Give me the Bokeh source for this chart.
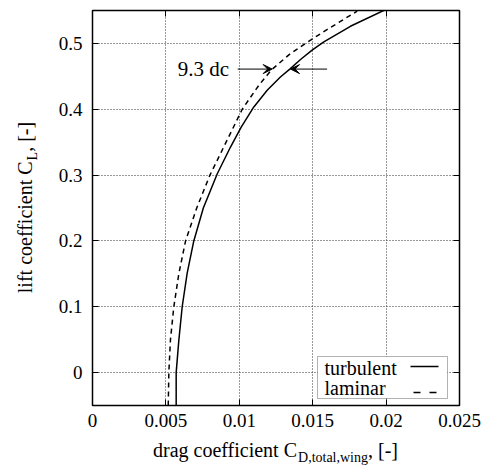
from bokeh.plotting import figure
from bokeh.models import (Arrow, VeeHead, Label, BoxAnnotation, LinearAxis,
                          FixedTicker, Div)
from bokeh.layouts import row, column
from bokeh.embed import file_html
from bokeh.resources import INLINE

# ---- data ----
turbulent_cl = [-0.05, 0.0, 0.049, 0.10, 0.151, 0.20, 0.25, 0.302, 0.3426,
                0.373, 0.4035, 0.429, 0.449, 0.461, 0.4756, 0.4898, 0.5024,
                0.526, 0.5507]
turbulent_cd = [0.0057, 0.0057, 0.00588, 0.00611, 0.00645, 0.0069, 0.00755,
                0.0085, 0.0094, 0.01013, 0.01099, 0.0119, 0.0128, 0.01344,
                0.01417, 0.01496, 0.01576, 0.01757, 0.0199]

laminar_cl = [-0.05, 0.0, 0.05, 0.10, 0.15, 0.20, 0.25, 0.30, 0.35, 0.40,
              0.437, 0.46, 0.483, 0.50, 0.518, 0.549]
laminar_cd = [0.00516, 0.0052, 0.00531, 0.00554, 0.00588, 0.00634, 0.0071,
              0.0080, 0.0091, 0.0102, 0.01135, 0.0122, 0.0134, 0.01451,
              0.01576, 0.01803]

x_ticks = [0, 0.005, 0.01, 0.015, 0.02, 0.025]
x_tick_labels = ["0", "0.005", "0.01", "0.015", "0.02", "0.025"]
y_ticks = [0, 0.1, 0.2, 0.3, 0.4, 0.5]
y_tick_labels = ["0", "0.1", "0.2", "0.3", "0.4", "0.5"]

# annotation: "9.3 dc" arrows at CL level
dc_cl = 0.461
dc_left_from, dc_left_to = 0.00989, 0.01224
dc_right_from, dc_right_to = 0.01598, 0.01349
dc_label_x = 0.0093
dc_text = "9.3 dc"

series_names = ["turbulent", "laminar"]

x_title = ("drag coefficient C", "D,total,wing", ", [-]")
y_title = ("lift coefficient C", "L", ", [-]")

FONT = "'Liberation Serif'"
CSS_FONT = "font-family:'Liberation Serif',serif;color:black;"

p = figure(frame_width=367, frame_height=395,
           x_range=(0, 0.025), y_range=(-0.05, 0.55),
           min_border_left=47, min_border_right=26,
           min_border_top=10, min_border_bottom=30,
           output_backend="svg", toolbar_location=None,
           background_fill_color="white", border_fill_color="white")

p.outline_line_color = "black"
p.outline_line_width = 1.5

# axes
for ax, ticks, labels in ((p.xaxis[0], x_ticks, x_tick_labels),
                          (p.yaxis[0], y_ticks, y_tick_labels)):
    ax.ticker = FixedTicker(ticks=ticks)
    ax.major_label_overrides = {t: l for t, l in zip(ticks, labels)}
    ax.major_label_text_font = FONT
    ax.major_label_text_font_size = "19px"
    ax.major_label_text_color = "black"
    ax.major_tick_in = 6
    ax.major_tick_out = 0
    ax.minor_tick_in = 0
    ax.minor_tick_out = 0
    ax.axis_line_color = None
    ax.major_tick_line_color = "black"
    ax.major_tick_line_width = 1
p.xaxis.major_label_standoff = 8
p.yaxis.major_label_standoff = 10

for loc, ticks in (("above", x_ticks), ("right", y_ticks)):
    ax = LinearAxis(ticker=FixedTicker(ticks=ticks),
                    major_label_text_font=FONT,
                    major_label_text_font_size="1px",
                    major_label_text_alpha=0,
                    major_label_standoff=0,
                    major_tick_in=6, major_tick_out=0,
                    minor_tick_in=0, minor_tick_out=0,
                    axis_line_color=None,
                    major_tick_line_color="black")
    p.add_layout(ax, loc)

# grid
for g in (p.xgrid[0], p.ygrid[0]):
    g.grid_line_color = "#333333"
    g.grid_line_dash = "1 2"
    g.grid_line_width = 1
    g.grid_line_alpha = 1

# curves
p.line(turbulent_cd, turbulent_cl, line_color="black", line_width=1.5)
p.line(laminar_cd, laminar_cl, line_color="black", line_width=1.5,
       line_dash="5 4")

# "9.3 dc" annotation
for x0, x1 in ((dc_left_from, dc_left_to), (dc_right_from, dc_right_to)):
    p.add_layout(Arrow(x_start=x0, y_start=dc_cl, x_end=x1, y_end=dc_cl,
                       line_width=1, line_color="black",
                       end=VeeHead(size=9, fill_color="black",
                                   line_color="black", line_width=1)))
p.add_layout(Label(x=dc_label_x, y=dc_cl, text=dc_text, text_align="right",
                   text_baseline="middle", text_font=FONT,
                   text_font_size="21px", text_color="black"))

# legend (custom: label first, sample line after)
p.add_layout(BoxAnnotation(left=225, right=355, top=49, bottom=7,
                           left_units="screen", right_units="screen",
                           top_units="screen", bottom_units="screen",
                           fill_color="white", fill_alpha=1,
                           line_color="black", line_width=1))
for name, sy in zip(series_names, (38, 18)):
    p.add_layout(Label(x=232, y=sy, x_units="screen", y_units="screen",
                       text=name, text_font=FONT, text_font_size="20px",
                       text_baseline="alphabetic", text_color="black"))
p.add_layout(Arrow(x_start=318, y_start=39, x_end=346, y_end=39,
                   start_units="screen", end_units="screen", end=None,
                   line_color="black", line_width=1.5))
p.add_layout(Arrow(x_start=321, y_start=13, x_end=344, y_end=13,
                   start_units="screen", end_units="screen", end=None,
                   line_color="black", line_width=1.5, line_dash="7 9"))

# axis titles with subscripts (HTML text)
SUB = "font-size:14px;position:relative;top:5px;margin-left:1px;"
xdiv = Div(width=440, height=35, margin=0, text=(
    f'<div style="{CSS_FONT}width:440px;box-sizing:border-box;'
    'padding:3px 26px 0 47px;line-height:24px;font-size:20px;'
    'text-align:center;white-space:nowrap;">'
    f'{x_title[0]}<span style="{SUB}">{x_title[1]}</span>{x_title[2]}</div>'))
ydiv = Div(width=45, height=435, margin=0, text=(
    f'<div style="{CSS_FONT}width:395px;height:24px;line-height:24px;'
    'font-size:20px;text-align:center;white-space:nowrap;'
    'transform-origin:0 0;transform:translate(13px,405px) rotate(-90deg);">'
    f'{y_title[0]}<span style="{SUB}">{y_title[1]}</span>{y_title[2]}</div>'))

layout = row(ydiv, column(p, xdiv, spacing=0), spacing=0)

open("out.html", "w").write(file_html(layout, INLINE))
